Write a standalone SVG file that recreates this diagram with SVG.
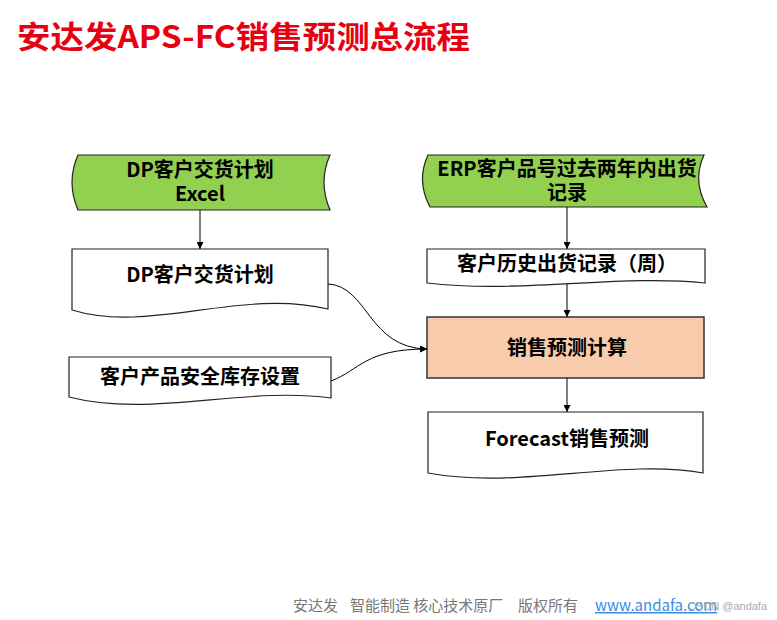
<svg xmlns="http://www.w3.org/2000/svg" width="777" height="620" viewBox="0 0 777 620">
<style>
.shape{stroke:#222;stroke-width:1.2;}
.data{fill:#92D050;}
.doc{fill:#ffffff;}
.proc{fill:#F8CBAD;stroke:#333;stroke-width:1.5;}
.t{font-family:"Noto Sans CJK SC","Microsoft YaHei",sans-serif;font-weight:bold;font-size:20px;fill:#000;text-anchor:middle;}
.conn{fill:none;stroke:#000;stroke-width:1;}
.foot{font-family:"Noto Sans CJK SC",sans-serif;font-size:15px;fill:#777;}
</style>
<defs>
<marker id="ah" viewBox="0 0 10 10" refX="10" refY="5" markerWidth="7" markerHeight="7" markerUnits="userSpaceOnUse" orient="auto">
<path d="M0,0 L10,5 L0,10 Z" fill="#000"/>
</marker>
</defs>
<rect width="777" height="620" fill="#fff"/>
<text x="17" y="48" font-family="'Noto Sans CJK SC',sans-serif" font-weight="bold" font-size="31" fill="#E60012" textLength="453" lengthAdjust="spacingAndGlyphs">安达发APS-FC销售预测总流程</text>

<g id="dp-excel">
<path class="shape data" d="M78 155 L330 155 Q318 182 330 210 L78 210 Q66 182 78 155 Z"/>
<text class="t" x="200" y="177">DP客户交货计划</text>
<text class="t" x="200" y="201">Excel</text>
</g>
<g id="erp">
<path class="shape data" d="M428 155 L704 155 Q692 181 707 207 L430 207 Q416 181 428 155 Z"/>
<text class="t" x="567" y="176">ERP客户品号过去两年内出货</text>
<text class="t" x="567" y="200">记录</text>
</g>
<g id="dp-plan">
<path class="shape doc" d="M72 249 H328 V309 C240 288 150 334 72 310 Z"/>
<text class="t" x="200" y="282">DP客户交货计划</text>
</g>
<g id="safety">
<path class="shape doc" d="M69 357 H331 V398 C245 386 150 418 69 397 Z"/>
<text class="t" x="200" y="384">客户产品安全库存设置</text>
</g>
<g id="history">
<path class="shape doc" d="M427 249 H705 V283 C620 274 520 294 427 283 Z"/>
<text class="t" x="567" y="271">客户历史出货记录（周）</text>
</g>
<g id="calc">
<rect class="proc" x="427" y="317" width="277" height="61"/>
<text class="t" x="567" y="355">销售预测计算</text>
</g>
<g id="forecast">
<path class="shape doc" d="M428 412 H703 V473 C620 458 520 490 428 473 Z"/>
<text class="t" x="567" y="446">Forecast销售预测</text>
</g>

<g id="connectors">
<line class="conn" x1="200" y1="210" x2="200" y2="249" marker-end="url(#ah)"/>
<line class="conn" x1="567" y1="207" x2="567" y2="249" marker-end="url(#ah)"/>
<line class="conn" x1="567" y1="284" x2="567" y2="317" marker-end="url(#ah)"/>
<line class="conn" x1="567" y1="378" x2="567" y2="412" marker-end="url(#ah)"/>
<path class="conn" d="M328 284 C368 286 368 348 427 349" marker-end="url(#ah)"/>
<path class="conn" d="M331 381 C360 370 365 349 427 349" marker-end="url(#ah)"/>
</g>

<text class="foot" x="293" y="611">安达发</text>
<text class="foot" x="350" y="611">智能制造 核心技术原厂</text>
<text class="foot" x="518" y="611">版权所有</text>
<text x="595" y="611" font-family="'Noto Sans CJK SC',sans-serif" font-size="15" fill="#3C8CE6" text-decoration="underline">www.andafa.com</text>
<text x="688" y="610" font-family="'Liberation Sans',sans-serif" font-size="11" fill="#aaa">CSDN @andafa</text>
</svg>
